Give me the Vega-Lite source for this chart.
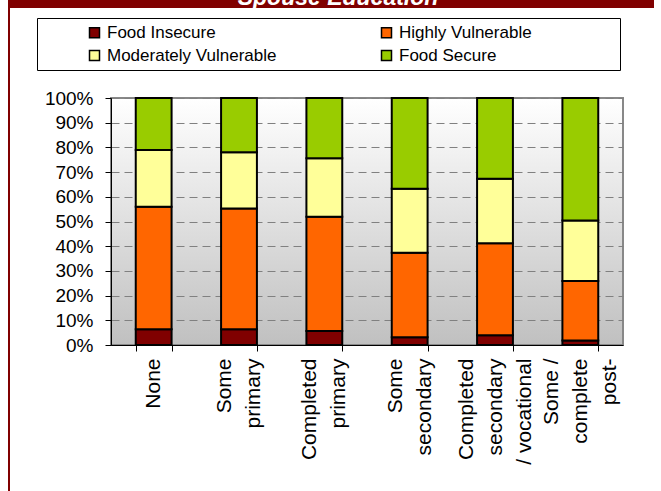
{
  "$schema": "https://vega.github.io/schema/vega-lite/v6.json",
  "padding": {"left": 8, "top": 0, "right": 0, "bottom": 0},
  "background": "white",
  "spacing": 0,
  "bounds": "flush",
  "config": {"font": "Liberation Sans"},
  "hconcat": [
    {
      "width": 2,
      "height": 491,
      "view": {"fill": "#800000", "stroke": null},
      "data": {"values": [{"t": ""}]},
      "mark": {"type": "text"},
      "encoding": {"text": {"field": "t"}}
    },
    {
      "spacing": 90,
      "bounds": "flush",
      "vconcat": [
        {
          "width": 644,
          "height": 8,
          "view": {"fill": "#800000", "stroke": null},
          "data": {"values": [{"title": "Spouse Education"}]},
          "mark": {"type": "text", "clip": true, "color": "white", "fontSize": 23, "fontWeight": "bold", "fontStyle": "italic", "baseline": "alphabetic", "dy": 1, "dx": 6},
          "encoding": {"text": {"field": "title"}}
        },
        {
          "spacing": 0,
          "bounds": "flush",
          "hconcat": [
            {
              "width": 101,
              "height": 1,
              "view": {"fill": null, "stroke": null},
              "data": {"values": [{"t": ""}]},
              "mark": {"type": "text"},
              "encoding": {"text": {"field": "t"}}
            },
            {
              "width": 512,
              "height": 247,
              "view": {
                "fill": {"gradient": "linear", "x1": 0, "y1": 0, "x2": 0, "y2": 1, "stops": [{"offset": 0, "color": "#ffffff"}, {"offset": 1, "color": "#c0c0c0"}]},
                "stroke": "#888888",
                "strokeWidth": 2
              },
              "data": {"values": [
                {"edu": "None", "cat": "Food Insecure", "level": 1, "pct": 6.4},
                {"edu": "None", "cat": "Highly Vulnerable", "level": 2, "pct": 49.6},
                {"edu": "None", "cat": "Moderately Vulnerable", "level": 3, "pct": 22.9},
                {"edu": "None", "cat": "Food Secure", "level": 4, "pct": 21.1},
                {"edu": "Some primary", "cat": "Food Insecure", "level": 1, "pct": 6.4},
                {"edu": "Some primary", "cat": "Highly Vulnerable", "level": 2, "pct": 48.9},
                {"edu": "Some primary", "cat": "Moderately Vulnerable", "level": 3, "pct": 22.7},
                {"edu": "Some primary", "cat": "Food Secure", "level": 4, "pct": 22.0},
                {"edu": "Completed primary", "cat": "Food Insecure", "level": 1, "pct": 5.7},
                {"edu": "Completed primary", "cat": "Highly Vulnerable", "level": 2, "pct": 46.2},
                {"edu": "Completed primary", "cat": "Moderately Vulnerable", "level": 3, "pct": 23.7},
                {"edu": "Completed primary", "cat": "Food Secure", "level": 4, "pct": 24.4},
                {"edu": "Some secondary", "cat": "Food Insecure", "level": 1, "pct": 3.1},
                {"edu": "Some secondary", "cat": "Highly Vulnerable", "level": 2, "pct": 34.2},
                {"edu": "Some secondary", "cat": "Moderately Vulnerable", "level": 3, "pct": 26.0},
                {"edu": "Some secondary", "cat": "Food Secure", "level": 4, "pct": 36.7},
                {"edu": "Completed secondary / vocational", "cat": "Food Insecure", "level": 1, "pct": 3.9},
                {"edu": "Completed secondary / vocational", "cat": "Highly Vulnerable", "level": 2, "pct": 37.3},
                {"edu": "Completed secondary / vocational", "cat": "Moderately Vulnerable", "level": 3, "pct": 26.1},
                {"edu": "Completed secondary / vocational", "cat": "Food Secure", "level": 4, "pct": 32.7},
                {"edu": "Some / complete post-secondary", "cat": "Food Insecure", "level": 1, "pct": 1.8},
                {"edu": "Some / complete post-secondary", "cat": "Highly Vulnerable", "level": 2, "pct": 24.1},
                {"edu": "Some / complete post-secondary", "cat": "Moderately Vulnerable", "level": 3, "pct": 24.5},
                {"edu": "Some / complete post-secondary", "cat": "Food Secure", "level": 4, "pct": 49.6}
              ]},
              "mark": {"type": "bar", "stroke": "black", "strokeWidth": 2},
              "encoding": {
                "x": {
                  "field": "edu",
                  "type": "nominal",
                  "sort": ["None", "Some primary", "Completed primary", "Some secondary", "Completed secondary / vocational", "Some / complete post-secondary"],
                  "scale": {"paddingInner": 0.58, "paddingOuter": 0.29},
                  "axis": {
                    "title": null,
                    "labelAngle": 270,
                    "labelAlign": "right",
                    "labelBaseline": "middle",
                    "labelFontSize": 21,
                    "labelLineHeight": 29,
                    "labelColor": "black",
                    "labelPadding": 7,
                    "labelLimit": 300,
                    "labelOffset": {
                      "condition": [
                        {"test": "datum.value == 'None'", "value": 0},
                        {"test": "datum.value == 'Completed secondary / vocational' || datum.value == 'Some / complete post-secondary'", "value": -29}
                      ],
                      "value": -14.5
                    },
                    "tickBand": "extent",
                    "tickColor": "black",
                    "tickSize": 6,
                    "domainColor": "black",
                    "labelExpr": "datum.label == 'Completed secondary / vocational' ? ['Completed', 'secondary', '/ vocational'] : datum.label == 'Some / complete post-secondary' ? ['Some /', 'complete', 'post-'] : split(datum.label, ' ')"
                  }
                },
                "y": {
                  "field": "pct",
                  "type": "quantitative",
                  "stack": "normalize",
                  "scale": {"domain": [0, 1]},
                  "axis": {
                    "title": null,
                    "format": ".0%",
                    "values": [0, 0.1, 0.2, 0.3, 0.4, 0.5, 0.6, 0.7, 0.8, 0.9, 1],
                    "labelFontSize": 19,
                    "labelColor": "black",
                    "labelPadding": 12,
                    "tickSize": 6,
                    "tickColor": "black",
                    "domainColor": "black",
                    "gridColor": "#808080",
                    "gridDash": [8, 5],
                    "gridWidth": 1
                  }
                },
                "order": {"field": "level", "type": "quantitative", "sort": "ascending"},
                "color": {
                  "field": "cat",
                  "type": "nominal",
                  "scale": {
                    "domain": ["Food Insecure", "Highly Vulnerable", "Moderately Vulnerable", "Food Secure"],
                    "range": ["#800000", "#ff6600", "#ffff99", "#99cc00"]
                  },
                  "legend": {
                    "title": "\u00a0",
                    "titleOrient": "right",
                    "titlePadding": 82,
                    "titleFontSize": 17,
                    "orient": "none",
                    "legendX": 29,
                    "legendY": 18,
                    "direction": "horizontal",
                    "columns": 2,
                    "symbolType": "square",
                    "symbolSize": 100,
                    "symbolStrokeColor": "black",
                    "symbolStrokeWidth": 1.5,
                    "labelFontSize": 17,
                    "labelLimit": 300,
                    "labelColor": "black",
                    "labelOffset": 4,
                    "padding": 6,
                    "strokeColor": "black",
                    "fillColor": "white",
                    "columnPadding": 58,
                    "rowPadding": 5,
                    "symbolOffset": 43
                  }
                }
              }
            }
          ]
        }
      ]
    }
  ]
}
